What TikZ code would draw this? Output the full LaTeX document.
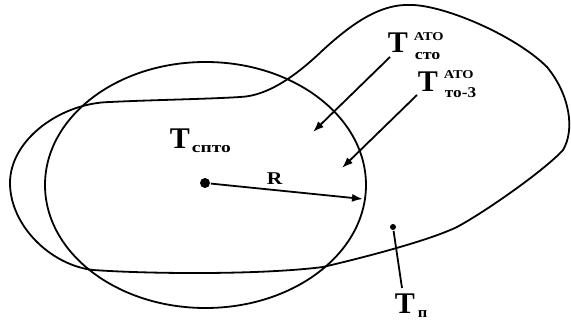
\documentclass[tikz,border=0pt]{standalone}
\usepackage{fontspec}
\setmainfont{Liberation Serif}
\usetikzlibrary{arrows.meta}
\begin{document}
\begin{tikzpicture}[x=1pt,y=-1pt,
  line width=1.8pt,
  arr/.style={-{Latex[length=11pt,width=8pt]}},
  bigT/.style={inner sep=0pt,font=\bfseries\fontsize{30}{30}\selectfont},
  supx/.style={inner sep=0pt,font=\bfseries\fontsize{12}{12}\selectfont},
  subx/.style={inner sep=0pt,font=\bfseries\fontsize{15}{15}\selectfont},
  dotbig/.style={circle,fill,inner sep=0pt,minimum size=10pt},
  dotsmall/.style={circle,fill,inner sep=0pt,minimum size=6pt}]
\useasboundingbox (0,0) rectangle (571,320);
% circle
\draw (205.5,185) ellipse [x radius=160.5, y radius=123];
% blob
\draw (10,183)
  .. controls (10,140) and (60,103) .. (110,102)
  .. controls (150,100) and (210,99) .. (240,97)
  .. controls (270,96) and (300,72) .. (323,50)
  .. controls (345,30) and (375,5) .. (407,5)
  .. controls (440,3) and (515,35) .. (547,67)
  .. controls (570,95) and (575,130) .. (563,150)
  .. controls (545,170) and (485,212) .. (457,227)
  .. controls (430,240) and (370,256) .. (323,267)
  .. controls (260,275) and (150,274) .. (93,270)
  .. controls (50,265) and (10,225) .. (10,183) -- cycle;
% centre dot and radius
\node[dotbig] (c) at (205,183) {};
\coordinate (rend) at (363,199);
\draw[arr] (c) -- (rend);
\node[inner sep=0pt,font=\bfseries\fontsize{18}{18}\selectfont,anchor=base west] (R) at (266,185) {\scalebox{1.2}[1]{R}};
% arrows from labels
\coordinate (a1s) at (390,57);
\coordinate (a1e) at (313,132);
\draw[arr] (a1s) -- (a1e);
\coordinate (a2s) at (417,95);
\coordinate (a2e) at (342,168);
\draw[arr] (a2s) -- (a2e);
% point T_p
\node[dotsmall] (p) at (393,227) {};
\coordinate (pe) at (402,288);
\draw (p) -- (pe);
% labels
\node[bigT,anchor=base west] (t1) at (387,53) {T};
\node[supx,anchor=north west] (t1s) at (413,32) {\scalebox{1.2}[1]{АТО}};
\node[subx,anchor=base west] (t1b) at (414,60) {\scalebox{1.2}[1]{сто}};
\node[bigT,anchor=base west] (t2) at (417,92) {T};
\node[supx,anchor=north west] (t2s) at (443,70) {\scalebox{1.2}[1]{АТО}};
\node[subx,anchor=base west] (t2b) at (444,98) {\scalebox{1.15}[1]{то-3}};
\node[bigT,anchor=base west] (t3) at (169,149) {T};
\node[subx,anchor=base west] (t3b) at (191,153) {\scalebox{1.3}[1]{спто}};
\node[bigT,anchor=base west] (t4) at (394,314) {T};
\node[subx,anchor=base west] (t4b) at (417,318) {\scalebox{1.1}[1]{п}};
\end{tikzpicture}
\end{document}
